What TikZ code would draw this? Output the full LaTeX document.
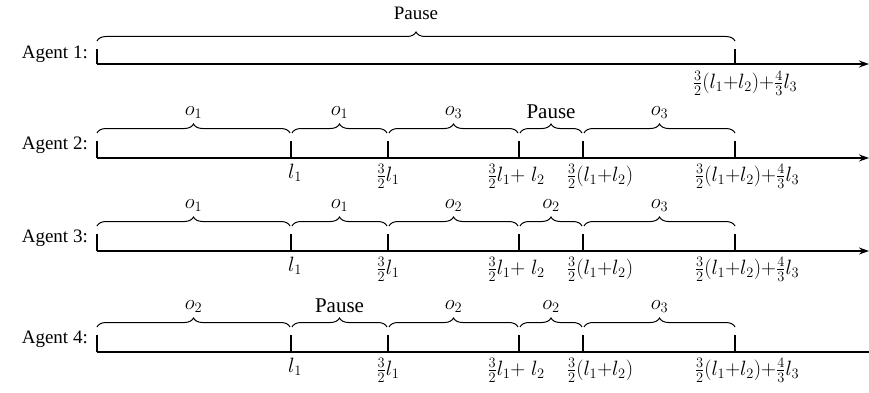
\documentclass[tikz,border=0pt]{standalone}
\usepackage{fontspec}
\setmainfont{Liberation Serif}
\usetikzlibrary{decorations.pathreplacing,arrows.meta}
\begin{document}
\begin{tikzpicture}[x=1pt,y=-1pt,
  axisline/.style={line width=1.8pt},
  tickmark/.style={line width=1.8pt},
  brc/.style={decorate,decoration={brace,amplitude=9pt,aspect=0.5},line width=1pt},
  lab/.style={font=\fontsize{19}{21}\selectfont,inner sep=1pt},
  mlab/.style={font=\fontsize{21}{23}\selectfont,inner sep=1pt},
  agentlab/.style={font=\fontsize{19}{21}\selectfont,anchor=east,inner sep=0pt},
  toplab/.style={mlab,anchor=south,yshift=13pt},
  botlab/.style={mlab,anchor=north},
  arrowend/.style={-{Stealth[length=10pt,width=7pt]}}]
\useasboundingbox (0,0) rectangle (869,393);
% ---------- Agent 1 ----------
\node[agentlab] (ag1) at (88,54) {Agent 1:};
\coordinate (s1) at (97,64);
\coordinate (e1) at (869,64);
\coordinate (f1) at (735,64);
\draw[axisline,arrowend] (s1) -- (e1);
\draw[tickmark] (s1) -- ++(0,-15);
\draw[tickmark] (f1) -- ++(0,-15);
\draw[brc] ([yshift=23pt]s1) -- ([yshift=23pt]f1) node[midway,lab,anchor=south,yshift=20pt] (p1) {Pause};
\node[botlab] (b1) at ([xshift=10pt,yshift=-6pt]f1) {$\frac{3}{2}(l_1{+}l_2){+}\frac{4}{3}l_3$};
% ---------- Agents 2-4 ----------
\foreach \a/\y/\arr/\la/\lb/\lc/\ld/\le in {
   2/158/1/$o_1$/$o_1$/$o_3$/Pause/$o_3$,
   3/251/1/$o_1$/$o_1$/$o_2$/$o_2$/$o_3$,
   4/352/0/$o_2$/Pause/$o_2$/$o_2$/$o_3$}{
  \node[agentlab] (ag\a) at (88,\y-13) {Agent \a:};
  \coordinate (s\a) at (97,\y);
  \coordinate (e\a) at (869,\y);
  \coordinate (t\a a) at (291,\y);
  \coordinate (t\a b) at (388,\y);
  \coordinate (t\a c) at (519,\y);
  \coordinate (t\a d) at (583,\y);
  \coordinate (t\a e) at (735,\y);
  \ifnum\arr=1
    \draw[axisline,arrowend] (s\a) -- (e\a);
  \else
    \draw[axisline] (s\a) -- (e\a);
  \fi
  \foreach \t in {s\a,t\a a,t\a b,t\a c,t\a d,t\a e}{
    \draw[tickmark] (\t) -- ++(0,-17);
  }
  \draw[brc] ([yshift=25pt]s\a) -- ([xshift=-1pt,yshift=25pt]t\a a) node[midway,toplab] (o\a a) {\la};
  \draw[brc] ([xshift=1pt,yshift=25pt]t\a a) -- ([xshift=-1pt,yshift=25pt]t\a b) node[midway,toplab] (o\a b) {\lb};
  \draw[brc] ([xshift=1pt,yshift=25pt]t\a b) -- ([xshift=-1pt,yshift=25pt]t\a c) node[midway,toplab] (o\a c) {\lc};
  \draw[brc] ([xshift=1pt,yshift=25pt]t\a c) -- ([xshift=-1pt,yshift=25pt]t\a d) node[midway,toplab] (o\a d) {\ld};
  \draw[brc] ([xshift=1pt,yshift=25pt]t\a d) -- ([yshift=25pt]t\a e) node[midway,toplab] (o\a e) {\le};
  \node[botlab] (l\a a) at ([xshift=4pt,yshift=-5pt]t\a a) {$l_1$};
  \node[botlab] (l\a b) at ([xshift=0pt,yshift=-5pt]t\a b) {$\frac{3}{2}l_1$};
  \node[botlab] (l\a c) at ([xshift=-3pt,yshift=-5pt]t\a c) {$\frac{3}{2}l_1{+}\;l_2$};
  \node[botlab] (l\a d) at ([xshift=17pt,yshift=-5pt]t\a d) {$\frac{3}{2}(l_1{+}l_2)$};
  \node[botlab] (l\a e) at ([xshift=12pt,yshift=-5pt]t\a e) {$\frac{3}{2}(l_1{+}l_2){+}\frac{4}{3}l_3$};
}
\end{tikzpicture}
\end{document}
